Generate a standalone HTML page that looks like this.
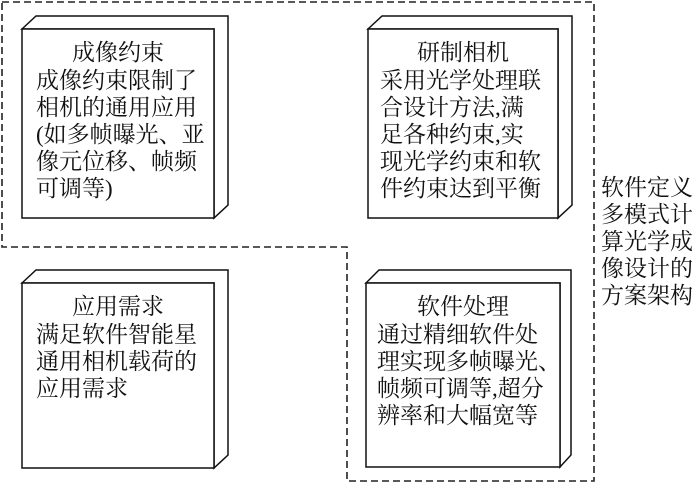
<!DOCTYPE html>
<html><head><meta charset="utf-8"><style>
body{margin:0;width:700px;height:484px;background:#fff;overflow:hidden}
svg text{font-family:"Liberation Serif","Noto Serif CJK SC",serif;font-size:23px;fill:#111}
</style></head><body>
<svg width="700" height="484" xmlns="http://www.w3.org/2000/svg">
<path d="M2,2 H594 V481 H347 V247 H2 Z" fill="none" stroke="#222" stroke-width="1.6" stroke-dasharray="7,4"/>
<g fill="#fff" stroke="#111" stroke-width="1.5">
<path d="M22,29 L36,16 H228 V205 L214,218 V29 Z"/><rect x="22" y="29" width="192" height="189"/>
<path d="M368,29 L382,16 H572 V205 L558,218 V29 Z"/><rect x="368" y="29" width="190" height="189"/>
<path d="M22,283 L36,270 H228 V455 L214,468 V283 Z"/><rect x="22" y="283" width="192" height="185"/>
<path d="M366,283 L379,270 H571 V455 L560,467 V283 Z"/><rect x="366" y="283" width="194" height="184"/>
</g>
<text x="118" y="60" text-anchor="middle">成像约束</text>
<text x="36" y="88">成像约束限制了</text>
<text x="36" y="115">相机的通用应用</text>
<text x="36" y="142">(如多帧曝光、亚</text>
<text x="36" y="169">像元位移、帧频</text>
<text x="36" y="196">可调等)</text>
<text x="463" y="60" text-anchor="middle">研制相机</text>
<text x="380" y="88">采用光学处理联</text>
<text x="380" y="115">合设计方法,满</text>
<text x="380" y="142">足各种约束,实</text>
<text x="380" y="169">现光学约束和软</text>
<text x="380" y="196">件约束达到平衡</text>
<text x="118" y="314" text-anchor="middle">应用需求</text>
<text x="36" y="342">满足软件智能星</text>
<text x="36" y="369">通用相机载荷的</text>
<text x="36" y="396">应用需求</text>
<text x="463" y="314" text-anchor="middle">软件处理</text>
<text x="377" y="342">通过精细软件处</text>
<text x="377" y="369">理实现多帧曝光、</text>
<text x="377" y="396">帧频可调等,超分</text>
<text x="377" y="423">辨率和大幅宽等</text>
<text x="601" y="195">软件定义</text>
<text x="601" y="222">多模式计</text>
<text x="601" y="249">算光学成</text>
<text x="601" y="276">像设计的</text>
<text x="601" y="303">方案架构</text>
</svg>
</body></html>
